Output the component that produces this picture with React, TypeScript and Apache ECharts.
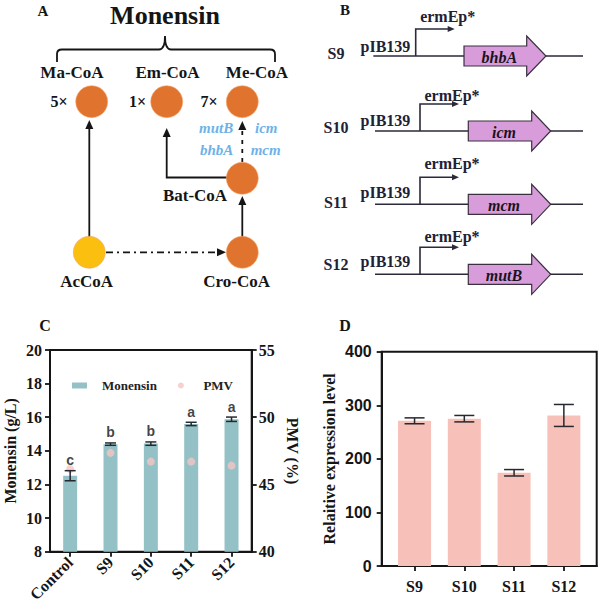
import React, { useEffect, useRef } from 'react';
import * as echarts from 'echarts';

// ---- Panel C data ----
const strainsC = ['Control', 'S9', 'S10', 'S11', 'S12'];
const monensin = [12.52, 14.4, 14.43, 15.6, 15.88];
const monensinErr = [0.3, 0.07, 0.1, 0.1, 0.13];
const sigLetters = ['c', 'b', 'b', 'a', 'a'];
const pmv = [46.15, 47.35, 46.7, 46.7, 46.4];
const monensinTicks = { min: 8, max: 20, interval: 2 };
const pmvTicks = { min: 40, max: 55, interval: 5 };

// ---- Panel D data ----
const strainsD = ['S9', 'S10', 'S11', 'S12'];
const expression = [271, 275, 174, 281];
const expressionErr = [5.5, 6, 6, 20.5];
const exprTicks = { min: 0, max: 400, interval: 100 };

// ---- Panel B rows ----
const constructs = ['S9', 'S10', 'S11', 'S12'];
const genes = ['bhbA', 'icm', 'mcm', 'mutB'];

const SERIF = "'Liberation Serif', 'Times New Roman', serif";
const SANS = "'Liberation Sans', Arial, sans-serif";
const INK = '#151515';
const NAVY = '#1e2236';

function txt(text: string, x: number, y: number, o: any = {}) {
  return {
    type: 'text',
    silent: true,
    style: {
      text,
      x,
      y,
      fill: o.fill || INK,
      fontFamily: o.family || SERIF,
      fontSize: o.size || 16,
      fontWeight: o.weight || 'bold',
      fontStyle: o.style || 'normal',
      align: o.align || 'center',
      verticalAlign: 'middle',
    },
  };
}
function ln(x1: number, y1: number, x2: number, y2: number, o: any = {}) {
  return {
    type: 'line',
    silent: true,
    shape: { x1, y1, x2, y2 },
    style: { stroke: o.stroke || INK, lineWidth: o.w || 1.8, lineDash: o.dash || null },
  };
}
function headUp(x: number, y: number) {
  return { type: 'polygon', silent: true, shape: { points: [[x, y], [x - 4, y + 9], [x + 4, y + 9]] }, style: { fill: INK } };
}
function headRight(x: number, y: number, l = 9, h = 4, fill = INK) {
  return { type: 'polygon', silent: true, shape: { points: [[x, y], [x - l, y - h], [x - l, y + h]] }, style: { fill } };
}
function circ(cx: number, cy: number, fill: string) {
  return { type: 'circle', silent: true, shape: { cx, cy, r: 16 }, style: { fill, stroke: '#f2a46a', lineWidth: 0.6 } };
}

echarts.graphic.registerShape(
  'brace',
  echarts.graphic.extendPath(
    'M57 62 L57 54 Q57 49.5 62 49.5 L159 49.5 Q165 49.5 165 36 Q165 49.5 171 49.5 L270 49.5 Q275 49.5 275 54 L275 62',
    {}
  ) as any
);

function panelA(): any[] {
  const orange = '#e0742f';
  const yellow = '#fbbf10';
  const blue = '#6fb2e8';
  const els: any[] = [];
  els.push(txt('A', 43, 11, { size: 15 }));
  els.push(txt('Monensin', 165, 15, { size: 26 }));
  els.push({ type: 'brace', silent: true, x: 0, y: 0, shape: {}, style: { stroke: INK, fill: 'none', lineWidth: 1.8 } });
  els.push(txt('Ma-CoA', 72, 72, { size: 17 }));
  els.push(txt('Em-CoA', 167.5, 72, { size: 17 }));
  els.push(txt('Me-CoA', 257, 72, { size: 17 }));
  els.push(txt('5×', 59, 101.7, { size: 16 }));
  els.push(txt('1×', 137.5, 101.7, { size: 16 }));
  els.push(txt('7×', 209, 101.7, { size: 16 }));
  // arrows
  els.push(ln(89.3, 237, 89.3, 128));
  els.push(headUp(89.3, 120));
  els.push({ type: 'polyline', silent: true, shape: { points: [[228, 177.5], [166.7, 177.5], [166.7, 136]] }, style: { stroke: INK, lineWidth: 1.8, fill: 'none' } });
  els.push(headUp(166.7, 128));
  els.push(ln(242.3, 237, 242.3, 204));
  els.push(headUp(242.3, 196));
  els.push(ln(242.3, 162, 242.3, 129, { dash: [4, 5] }));
  els.push(headUp(242.3, 121));
  els.push(ln(106, 252.3, 217, 252.3, { dash: [7, 4, 2, 4] }));
  els.push(headRight(226, 252.3));
  // circles
  els.push(circ(91.7, 101.7, orange));
  els.push(circ(166.7, 101.7, orange));
  els.push(circ(242.3, 101.7, orange));
  els.push(circ(242.3, 178.3, orange));
  els.push(circ(89.3, 252.3, yellow));
  els.push(circ(242.3, 252.3, orange));
  els.push(txt('Bat-CoA', 195, 195, { size: 17 }));
  els.push(txt('AcCoA', 86.7, 281.7, { size: 17 }));
  els.push(txt('Cro-CoA', 236.7, 281.7, { size: 17 }));
  els.push(txt('mutB', 233.3, 128.3, { size: 15, style: 'italic', fill: blue, align: 'right' }));
  els.push(txt('bhbA', 233.3, 150, { size: 15, style: 'italic', fill: blue, align: 'right' }));
  els.push(txt('icm', 255, 128.3, { size: 15, style: 'italic', fill: blue, align: 'left' }));
  els.push(txt('mcm', 250.7, 150, { size: 15, style: 'italic', fill: blue, align: 'left' }));
  return els;
}

function panelB(): any[] {
  const els: any[] = [];
  els.push(txt('B', 345, 10, { size: 15 }));
  const base = [56, 131, 204.3, 274.3];
  const labY = [53, 127, 202, 264];
  const pY = [46.7, 120, 192.7, 261.7];
  const eY = [16, 95, 163.3, 236.7];
  constructs.forEach((name, i) => {
    const b = base[i];
    const first = i === 0;
    const px = first ? 415.7 : 420;
    const g0 = first ? 464 : 468.3;
    const g1 = first ? 526.7 : 531.7;
    const tip = first ? 546 : 550.7;
    els.push(txt(name, 336, labY[i], { size: 16, fill: NAVY }));
    els.push(txt('pIB139', 360.5, pY[i], { size: 16, fill: NAVY, align: 'left' }));
    els.push(txt('ermEp*', px + 32, eY[i], { size: 16, fill: NAVY }));
    els.push(ln(first ? 373.3 : 375, b, 583, b, { stroke: '#2a2a3a', w: 1.6 }));
    els.push({ type: 'polyline', silent: true, shape: { points: [[px, b], [px, b - 27], [px + 33, b - 27]] }, style: { stroke: '#2a2a3a', lineWidth: 1.6, fill: 'none' } });
    els.push(headRight(px + 39, b - 27, 7, 3, '#2a2a3a'));
    els.push({
      type: 'polygon', silent: true,
      shape: { points: [[g0, b - 10], [g1, b - 10], [g1, b - 20], [tip, b], [g1, b + 20], [g1, b + 10], [g0, b + 10]] },
      style: { fill: '#d99cdb', stroke: '#3a3040', lineWidth: 1.2 },
    });
    els.push(txt(genes[i], (g0 + g1) / 2 + 4, b + 1, { size: 16, style: 'italic', fill: '#1a1420' }));
  });
  return els;
}

function errRender(capW: number) {
  return (params: any, api: any) => {
    const x = api.value(0);
    const lo = api.value(1);
    const hi = api.value(2);
    const pHi = api.coord([x, hi]);
    const pLo = api.coord([x, lo]);
    const st = { stroke: '#262a30', lineWidth: 1.5, fill: 'none' };
    return {
      type: 'group',
      children: [
        { type: 'line', shape: { x1: pHi[0], y1: pHi[1], x2: pLo[0], y2: pLo[1] }, style: st },
        { type: 'line', shape: { x1: pHi[0] - capW / 2, y1: pHi[1], x2: pHi[0] + capW / 2, y2: pHi[1] }, style: st },
        { type: 'line', shape: { x1: pLo[0] - capW / 2, y1: pLo[1], x2: pLo[0] + capW / 2, y2: pLo[1] }, style: st },
      ],
    };
  };
}

const axisLineStyle = { onZero: false, lineStyle: { color: INK, width: 2 } };
const tickStyle = { show: true, length: 5, lineStyle: { color: INK, width: 1.8 } };

export default function App() {
  const ref = useRef<HTMLDivElement>(null);
  useEffect(() => {
    if (!ref.current) return;
    const chart = echarts.init(ref.current, null, { renderer: 'svg' });
    const option: any = {
      animation: false,
      backgroundColor: '#ffffff',
      textStyle: { fontFamily: SERIF },
      grid: [
        { left: 50, top: 350, width: 201.7, height: 201.7, show: true, borderColor: INK, borderWidth: 2, backgroundColor: 'transparent' },
        { left: 381.7, top: 351.7, width: 215, height: 214.3, show: true, borderColor: INK, borderWidth: 2, backgroundColor: 'transparent' },
      ],
      legend: {
        left: 67,
        top: 374,
        itemWidth: 15,
        itemHeight: 6,
        itemGap: 21,
        data: [{ name: 'Monensin', icon: 'rect' }, { name: 'PMV', icon: 'circle' }],
        textStyle: { fontFamily: SERIF, fontWeight: 'bold', fontSize: 13, color: '#222', padding: [0, 0, 0, 10] },
      },
      xAxis: [
        {
          type: 'category', gridIndex: 0, data: strainsC,
          axisLine: axisLineStyle,
          axisTick: { ...tickStyle, alignWithLabel: true },
          axisLabel: { interval: 0, rotate: 45, margin: 8, color: INK, fontFamily: SERIF, fontWeight: 'bold', fontSize: 16 },
          splitLine: { show: false },
        },
        {
          type: 'value', gridIndex: 1, min: -0.66, max: 3.66,
          axisLine: axisLineStyle,
          axisTick: { ...tickStyle, customValues: [0, 1, 2, 3] },
          axisLabel: {
            customValues: [0, 1, 2, 3], margin: 12, color: INK, fontFamily: SERIF, fontWeight: 'bold', fontSize: 16,
            formatter: (v: number) => strainsD[Math.round(v)] || '',
          },
          splitLine: { show: false },
        },
      ],
      yAxis: [
        {
          type: 'value', gridIndex: 0, ...monensinTicks,
          name: 'Monensin (g/L)', nameLocation: 'middle', nameGap: 32,
          nameTextStyle: { fontFamily: SERIF, fontWeight: 'bold', fontSize: 16, color: INK },
          axisLine: { show: true, ...axisLineStyle }, axisTick: tickStyle,
          axisLabel: { margin: 8, color: INK, fontFamily: SERIF, fontWeight: 'bold', fontSize: 16 },
          splitLine: { show: false },
        },
        {
          type: 'value', gridIndex: 0, position: 'right', ...pmvTicks,
          name: 'PMV (%)', nameLocation: 'middle', nameGap: 33, nameRotate: -90,
          nameTextStyle: { fontFamily: SERIF, fontWeight: 'bold', fontSize: 16, color: INK },
          axisLine: { show: true, ...axisLineStyle }, axisTick: tickStyle,
          axisLabel: { margin: 7, color: INK, fontFamily: SERIF, fontWeight: 'bold', fontSize: 16 },
          splitLine: { show: false },
        },
        {
          type: 'value', gridIndex: 1, ...exprTicks,
          name: 'Relaitive expression level', nameLocation: 'middle', nameGap: 44,
          nameTextStyle: { fontFamily: SERIF, fontWeight: 'bold', fontSize: 16, color: INK },
          axisLine: { show: true, ...axisLineStyle }, axisTick: tickStyle,
          axisLabel: { margin: 10, color: INK, fontFamily: SANS, fontWeight: 'bold', fontSize: 16 },
          splitLine: { show: false },
        },
      ],
      series: [
        {
          name: 'Monensin', type: 'bar', xAxisIndex: 0, yAxisIndex: 0, barWidth: 14,
          itemStyle: { color: '#94c1c6' }, data: monensin, z: 2,
        },
        {
          name: 'PMV', type: 'scatter', xAxisIndex: 0, yAxisIndex: 1, symbolSize: 8,
          itemStyle: { color: '#f4c5c4' }, data: pmv, z: 3,
        },
        {
          name: 'monensinErr', type: 'custom', xAxisIndex: 0, yAxisIndex: 0, z: 4,
          encode: { x: 0, y: [1, 2] },
          renderItem: errRender(11),
          data: monensin.map((m, i) => [i, m - monensinErr[i], m + monensinErr[i]]),
        },
        {
          name: 'letters', type: 'scatter', xAxisIndex: 0, yAxisIndex: 0, symbolSize: 1, silent: true,
          itemStyle: { color: 'rgba(0,0,0,0)' },
          label: {
            show: true, position: 'top', distance: 3, color: '#111', fontFamily: SANS, fontWeight: 'bold', fontSize: 14,
            formatter: (p: any) => sigLetters[p.dataIndex],
          },
          data: monensin.map((m, i) => [i, m + monensinErr[i]]),
          z: 5,
        },
        {
          name: 'Expression', type: 'bar', xAxisIndex: 1, yAxisIndex: 2, barWidth: 33,
          itemStyle: { color: '#f7c1b9' },
          data: expression.map((v, i) => [i, v]), z: 2,
        },
        {
          name: 'expressionErr', type: 'custom', xAxisIndex: 1, yAxisIndex: 2, z: 4,
          encode: { x: 0, y: [1, 2] },
          renderItem: errRender(20),
          data: expression.map((v, i) => [i, v - expressionErr[i], v + expressionErr[i]]),
        },
      ],
      graphic: [
        ...panelA(),
        ...panelB(),
        txt('C', 45, 325, { size: 16 }),
        txt('D', 345, 325, { size: 16 }),
      ],
    };
    chart.setOption(option);
    return () => chart.dispose();
  }, []);
  return <div ref={ref} style={{ position: 'absolute', left: 0, top: 0, width: 602, height: 611 }} />;
}
